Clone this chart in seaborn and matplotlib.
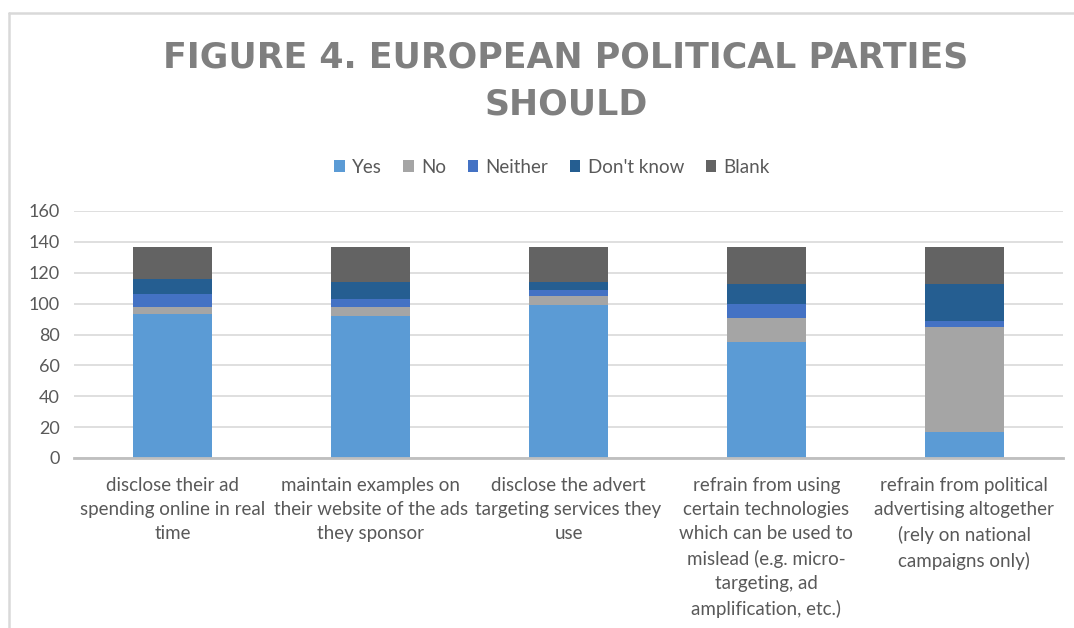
import numpy as np
import pandas as pd
import matplotlib
matplotlib.use("Agg")
import matplotlib.pyplot as plt
from matplotlib.patches import Patch
from matplotlib.lines import Line2D
import seaborn as sns

# ------------------------------------------------------------
# Data
# ------------------------------------------------------------
categories = [
    "disclose their ad\nspending online in real\ntime",
    "maintain examples on\ntheir website of the ads\nthey sponsor",
    "disclose the advert\ntargeting services they\nuse",
    "refrain from using\ncertain technologies\nwhich can be used to\nmislead (e.g. micro-\ntargeting, ad\namplification, etc.)",
    "refrain from political\nadvertising altogether\n(rely on national\ncampaigns only)",
]
yes        = [93, 92, 99, 75, 17]
no         = [5, 6, 6, 16, 68]
neither    = [8, 5, 4, 9, 4]
dont_know  = [10, 11, 5, 13, 24]
blank      = [21, 23, 23, 24, 24]

series_names = ["Yes", "No", "Neither", "Don't know", "Blank"]
colors = ["#5B9BD5", "#A5A5A5", "#4472C4", "#255E91", "#636363"]
yticks = [0, 20, 40, 60, 80, 100, 120, 140, 160]

df = pd.DataFrame({"category": categories, "Yes": yes, "No": no,
                   "Neither": neither, "Don't know": dont_know, "Blank": blank})

# ------------------------------------------------------------
# Plot
# ------------------------------------------------------------
sns.set_style("white")
plt.rcParams["font.family"] = ["Lato", "DejaVu Sans"]

fig = plt.figure(figsize=(10.74, 6.28), dpi=100)
ax = fig.add_axes([74 / 1074, 1 - 458 / 628, (1063 - 74) / 1074, (458 - 211) / 628])

# stacked bars, one barplot call per series
bottom = np.zeros(len(categories))
for name, col in zip(series_names, colors):
    sns.barplot(data=df, x="category", y=name, bottom=bottom, color=col,
                width=0.4, saturation=1, ax=ax, linewidth=0)
    bottom = bottom + df[name].values

ax.set_ylim(0, 160)
ax.set_yticks(yticks)
ax.set_xlabel("")
ax.set_ylabel("")
ax.grid(axis="y", color="#D9D9D9", linewidth=1.2)
ax.set_axisbelow(True)
for s in ["top", "right", "left"]:
    ax.spines[s].set_visible(False)
ax.spines["bottom"].set_color("#BFBFBF")
ax.spines["bottom"].set_linewidth(2)
ax.tick_params(axis="both", length=0, labelsize=13, colors="#595959", pad=10)
ax.tick_params(axis="x", pad=14)
ax.set_xticks(range(len(categories)))
ax.set_xticklabels(categories, fontsize=13.5, color="#595959", linespacing=1.5)

# title
title_font = dict(ha="center", va="center", fontsize=25, fontweight="bold",
                  color="#7F7F7F", family=["DejaVu Sans"])
fig.text(0.527, 0.909, "FIGURE 4. EUROPEAN POLITICAL PARTIES", **title_font)
fig.text(0.527, 0.833, "SHOULD", **title_font)

# legend
handles = [Patch(facecolor=c, edgecolor="none", label=n) for n, c in zip(series_names, colors)]
fig.legend(handles=handles, loc="center", bbox_to_anchor=(0.514, 0.734), ncol=5,
           frameon=False, fontsize=13.5, handlelength=0.55, handleheight=0.55,
           handletextpad=0.4, columnspacing=1.15, labelcolor="#595959")

# chart area border (left + top visible)
fig.add_artist(Line2D([9 / 1074, 9 / 1074], [0, 1 - 13 / 628], transform=fig.transFigure,
                      color="#D9D9D9", linewidth=1.8))
fig.add_artist(Line2D([9 / 1074, 1], [1 - 13 / 628, 1 - 13 / 628], transform=fig.transFigure,
                      color="#D9D9D9", linewidth=1.8))

fig.savefig("out.png", dpi=100)
